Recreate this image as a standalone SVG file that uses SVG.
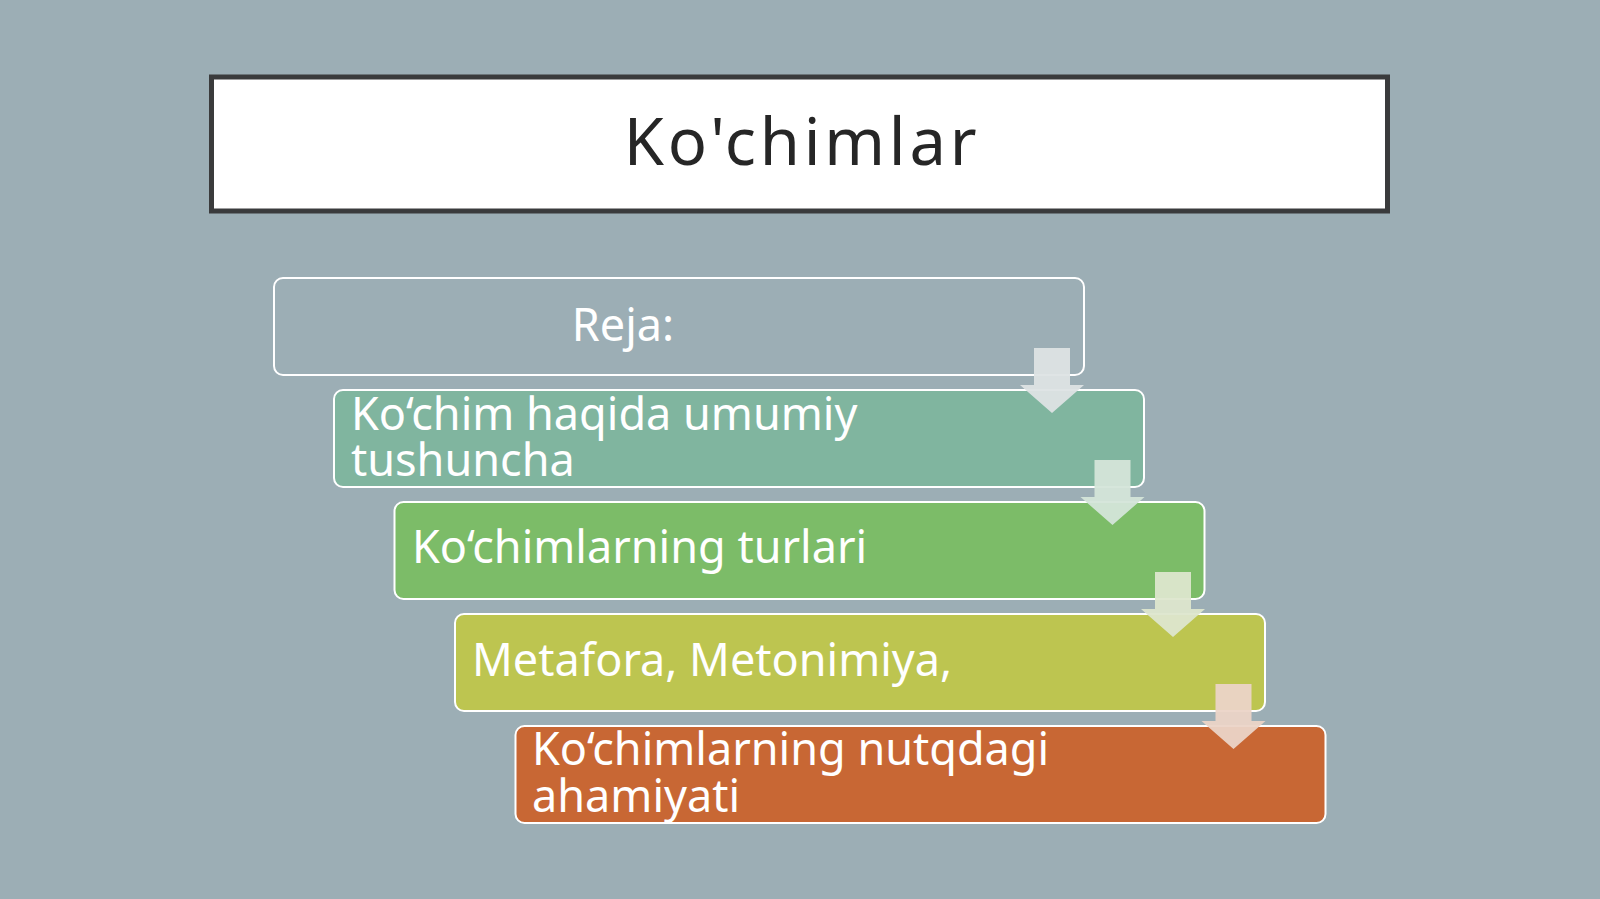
<svg xmlns="http://www.w3.org/2000/svg" width="1600" height="899" viewBox="0 0 1600 899">
<style>
.box{stroke:#ffffff;stroke-width:2}
.t{font-family:"Noto Sans","Open Sans","DejaVu Sans",sans-serif;font-size:45px;fill:#ffffff}
.title{font-family:"Noto Sans","Open Sans","DejaVu Sans",sans-serif;font-size:65px;fill:#262626;letter-spacing:3.8px}
</style>
<rect x="0" y="0" width="1600" height="899" fill="#9caeb5"/>
<g id="title">
<rect x="211.5" y="77" width="1176" height="134" fill="#ffffff" stroke="#3a3b3c" stroke-width="5"/>
<text class="title" x="802" y="165" text-anchor="middle">Ko'chimlar</text>
</g>
<g id="step1">
<rect class="box" x="274" y="278" width="810" height="97" rx="9" fill="none"/>
<text class="t" x="623" y="341" text-anchor="middle">Reja:</text>
</g>
<g id="step2">
<rect class="box" x="334" y="390" width="810" height="97" rx="9" fill="#80b59f"/>
<text class="t" x="351" y="430">Ko‘chim haqida umumiy</text>
<text class="t" x="351" y="476">tushuncha</text>
</g>
<g id="step3">
<rect class="box" x="394.5" y="502" width="810" height="97" rx="9" fill="#7cbc68"/>
<text class="t" x="412" y="563">Ko‘chimlarning turlari</text>
</g>
<g id="step4">
<rect class="box" x="455" y="614" width="810" height="97" rx="9" fill="#bdc550"/>
<text class="t" x="472" y="676">Metafora, Metonimiya,</text>
</g>
<g id="step5">
<rect class="box" x="515.5" y="726" width="810" height="97" rx="9" fill="#c86734"/>
<text class="t" x="532" y="765">Ko‘chimlarning nutqdagi</text>
<text class="t" x="532" y="812">ahamiyati</text>
</g>
<g id="connectors">
<path d="M1034,348 H1070 V385 H1084 L1052,413 L1020,385 H1034 Z" fill="#dde3e4" fill-opacity="0.95"/>
<path d="M1094.5,460 H1130.5 V497 H1144.5 L1112.5,525 L1080.5,497 H1094.5 Z" fill="#d4e5d9" fill-opacity="0.95"/>
<path d="M1155,572 H1191 V609 H1205 L1173,637 L1141,609 H1155 Z" fill="#dde6cd" fill-opacity="0.95"/>
<path d="M1215.5,684 H1251.5 V721 H1265.5 L1233.5,749 L1201.5,721 H1215.5 Z" fill="#ebd4c7" fill-opacity="0.95"/>
</g>
</svg>
